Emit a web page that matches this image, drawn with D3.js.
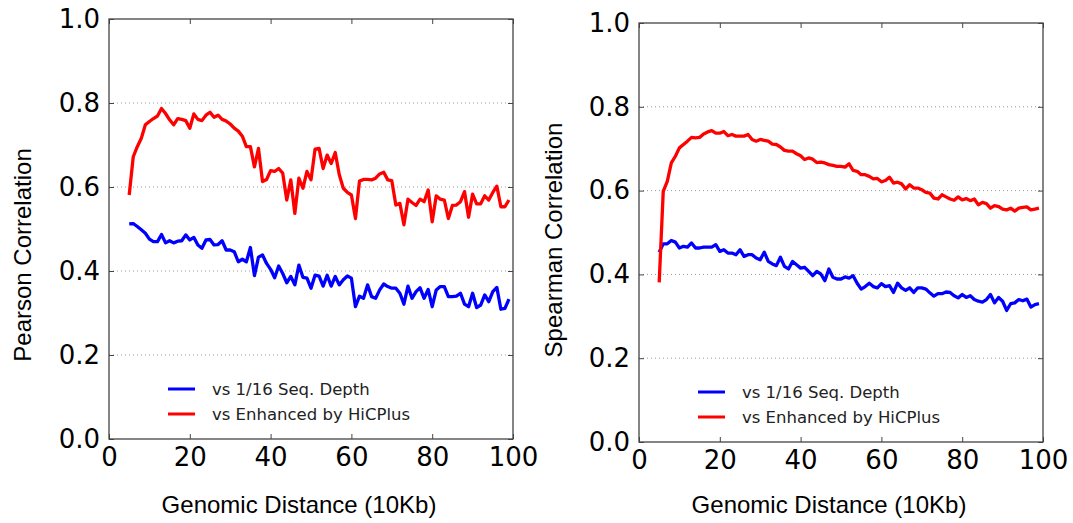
<!DOCTYPE html>
<html lang="en">
<head>
    <meta charset="UTF-8">
    <title>HiCPlus correlation vs genomic distance</title>
    <style>
        body { margin: 0; background: #fff; }
        .tick-label { font-family: "DejaVu Sans", sans-serif; font-size: 26px; fill: #000; }
        .axis-title { font-family: "Liberation Sans", Arial, sans-serif; font-size: 24px; fill: #000; }
        .legend-text { font-family: "DejaVu Sans", sans-serif; font-size: 16.5px; fill: #222; }
    </style>
</head>
<body>
    <div id="chart"></div>

    <script src="https://d3js.org/d3.v7.min.js"></script>
    <script>
        // genomic distance (10Kb bins)
        const distance = [5, 6, 7, 8, 9, 10, 11, 12, 13, 14, 15, 16, 17, 18, 19, 20, 21, 22, 23, 24,
            25, 26, 27, 28, 29, 30, 31, 32, 33, 34, 35, 36, 37, 38, 39, 40, 41, 42, 43, 44,
            45, 46, 47, 48, 49, 50, 51, 52, 53, 54, 55, 56, 57, 58, 59, 60, 61, 62, 63, 64,
            65, 66, 67, 68, 69, 70, 71, 72, 73, 74, 75, 76, 77, 78, 79, 80, 81, 82, 83, 84,
            85, 86, 87, 88, 89, 90, 91, 92, 93, 94, 95, 96, 97, 98, 99];

        const pearsonLow = [0.512, 0.513, 0.506, 0.498, 0.490, 0.476, 0.470, 0.470, 0.487, 0.467,
            0.472, 0.467, 0.471, 0.472, 0.486, 0.474, 0.480, 0.462, 0.454, 0.474,
            0.475, 0.462, 0.463, 0.472, 0.450, 0.450, 0.446, 0.422, 0.428, 0.422,
            0.456, 0.389, 0.433, 0.438, 0.418, 0.404, 0.384, 0.412, 0.394, 0.372,
            0.387, 0.367, 0.414, 0.385, 0.383, 0.359, 0.390, 0.388, 0.364, 0.390,
            0.364, 0.387, 0.367, 0.379, 0.388, 0.383, 0.315, 0.340, 0.335, 0.367,
            0.339, 0.335, 0.355, 0.369, 0.363, 0.359, 0.359, 0.347, 0.321, 0.364,
            0.335, 0.351, 0.360, 0.335, 0.356, 0.315, 0.355, 0.363, 0.363, 0.339,
            0.339, 0.340, 0.347, 0.321, 0.315, 0.347, 0.313, 0.319, 0.343, 0.327,
            0.351, 0.361, 0.309, 0.311, 0.333];

        const pearsonHiCPlus = [0.581, 0.672, 0.696, 0.716, 0.748, 0.756, 0.763, 0.769, 0.787, 0.775,
            0.760, 0.748, 0.763, 0.761, 0.758, 0.740, 0.774, 0.761, 0.758, 0.771,
            0.778, 0.766, 0.771, 0.761, 0.757, 0.750, 0.740, 0.733, 0.721, 0.696,
            0.696, 0.648, 0.692, 0.613, 0.618, 0.639, 0.637, 0.644, 0.633, 0.569,
            0.617, 0.537, 0.621, 0.597, 0.637, 0.617, 0.690, 0.692, 0.644, 0.676,
            0.656, 0.682, 0.629, 0.597, 0.587, 0.581, 0.525, 0.614, 0.618, 0.618,
            0.617, 0.621, 0.631, 0.635, 0.617, 0.615, 0.557, 0.561, 0.510, 0.571,
            0.563, 0.556, 0.571, 0.565, 0.593, 0.517, 0.579, 0.571, 0.569, 0.525,
            0.556, 0.557, 0.565, 0.589, 0.528, 0.583, 0.560, 0.560, 0.579, 0.569,
            0.587, 0.602, 0.553, 0.553, 0.569];

        const spearmanLow = [0.453, 0.473, 0.473, 0.481, 0.477, 0.463, 0.467, 0.465, 0.475, 0.463,
            0.463, 0.465, 0.465, 0.465, 0.471, 0.455, 0.459, 0.451, 0.451, 0.447,
            0.459, 0.443, 0.447, 0.447, 0.439, 0.435, 0.453, 0.431, 0.425, 0.421,
            0.441, 0.419, 0.413, 0.431, 0.423, 0.415, 0.417, 0.407, 0.397, 0.407,
            0.401, 0.385, 0.413, 0.393, 0.389, 0.389, 0.394, 0.391, 0.397, 0.379,
            0.365, 0.371, 0.379, 0.371, 0.368, 0.378, 0.371, 0.373, 0.357, 0.379,
            0.368, 0.362, 0.368, 0.357, 0.368, 0.368, 0.365, 0.356, 0.348, 0.354,
            0.354, 0.358, 0.357, 0.349, 0.344, 0.352, 0.345, 0.349, 0.340, 0.336,
            0.334, 0.340, 0.352, 0.332, 0.345, 0.336, 0.314, 0.330, 0.332, 0.340,
            0.337, 0.341, 0.322, 0.328, 0.330];

        const spearmanHiCPlus = [0.381, 0.598, 0.622, 0.666, 0.682, 0.702, 0.710, 0.718, 0.727, 0.726,
            0.727, 0.735, 0.740, 0.743, 0.737, 0.737, 0.741, 0.731, 0.734, 0.730,
            0.730, 0.730, 0.734, 0.722, 0.718, 0.722, 0.720, 0.718, 0.711, 0.710,
            0.704, 0.696, 0.694, 0.694, 0.688, 0.683, 0.674, 0.678, 0.675, 0.667,
            0.668, 0.666, 0.662, 0.660, 0.658, 0.658, 0.656, 0.664, 0.648, 0.646,
            0.638, 0.638, 0.634, 0.628, 0.629, 0.621, 0.624, 0.632, 0.618, 0.620,
            0.616, 0.604, 0.614, 0.606, 0.606, 0.602, 0.596, 0.594, 0.582, 0.580,
            0.590, 0.585, 0.580, 0.577, 0.585, 0.578, 0.581, 0.576, 0.580, 0.566,
            0.572, 0.569, 0.558, 0.564, 0.562, 0.556, 0.554, 0.558, 0.551, 0.558,
            0.560, 0.561, 0.554, 0.556, 0.558];

        const xTicks = [0, 20, 40, 60, 80, 100];
        const yTicks = [0.0, 0.2, 0.4, 0.6, 0.8, 1.0];
        const gridValues = [0.2, 0.4, 0.6, 0.8];
        const legendLabels = ["vs 1/16 Seq. Depth", "vs Enhanced by HiCPlus"];
        const seriesColors = ["#0000ff", "#ff0000"];

        const panels = [
            { left: 109, top: 19, width: 404, height: 420, yTitle: "Pearson Correlation",
              yTitleX: 31, yTitleY: 255, series: [pearsonLow, pearsonHiCPlus] },
            { left: 639, top: 23, width: 404, height: 419, yTitle: "Spearman Correlation",
              yTitleX: 562, yTitleY: 240, series: [spearmanLow, spearmanHiCPlus] }
        ];

        const svg = d3.select("#chart").append("svg")
            .attr("width", 1073)
            .attr("height", 523);

        panels.forEach(p => {
            const g = svg.append("g").attr("transform", `translate(${p.left},${p.top})`);

            const x = d3.scaleLinear().domain([0, 100]).range([0, p.width]);
            const y = d3.scaleLinear().domain([0, 1]).range([p.height, 0]);

            // dotted horizontal grid
            g.append("g")
                .selectAll("line")
                .data(gridValues)
                .enter()
                .append("line")
                .attr("x1", 0)
                .attr("x2", p.width)
                .attr("y1", d => y(d))
                .attr("y2", d => y(d))
                .attr("stroke", "#999")
                .attr("stroke-width", 1)
                .attr("stroke-dasharray", "1,3");

            // series lines
            const line = d3.line()
                .x((d, i) => x(distance[i]))
                .y(d => y(d));

            p.series.forEach((vals, i) => {
                g.append("path")
                    .datum(vals)
                    .attr("fill", "none")
                    .attr("stroke", seriesColors[i])
                    .attr("stroke-width", 3.3)
                    .attr("stroke-linejoin", "round")
                    .attr("d", line);
            });

            // axes with inward ticks on all four sides
            const bottom = g.append("g")
                .attr("transform", `translate(0,${p.height})`)
                .call(d3.axisBottom(x).tickValues(xTicks).tickSize(-5).tickPadding(8.5).tickFormat(d3.format("d")));
            const left = g.append("g")
                .call(d3.axisLeft(y).tickValues(yTicks).tickSize(-5).tickPadding(9).tickFormat(d3.format(".1f")));
            g.append("g")
                .call(d3.axisTop(x).tickValues(xTicks).tickSize(-5).tickFormat(""));
            g.append("g")
                .attr("transform", `translate(${p.width},0)`)
                .call(d3.axisRight(y).tickValues(yTicks).tickSize(-5).tickFormat(""));

            g.selectAll(".domain").remove();
            g.selectAll(".tick line").attr("stroke", "#444").attr("stroke-width", 1);
            [bottom, left].forEach(a => {
                a.attr("font-size", null).attr("font-family", null);
                a.selectAll("text").attr("class", "tick-label").attr("fill", null);
            });

            g.append("rect")
                .attr("width", p.width)
                .attr("height", p.height)
                .attr("fill", "none")
                .attr("stroke", "#444")
                .attr("stroke-width", 1.3);

            // legend, no frame
            const leg = g.append("g")
                .attr("transform", `translate(59,${p.height - 50})`);
            legendLabels.forEach((lbl, i) => {
                leg.append("line")
                    .attr("x1", 0).attr("x2", 27)
                    .attr("y1", i * 25).attr("y2", i * 25)
                    .attr("stroke", seriesColors[i])
                    .attr("stroke-width", 3);
                leg.append("text")
                    .attr("class", "legend-text")
                    .attr("x", 44)
                    .attr("y", i * 25 + 6)
                    .text(lbl);
            });

            // axis titles
            svg.append("text")
                .attr("class", "axis-title")
                .attr("x", p.left + p.width / 2 - 12)
                .attr("y", 513)
                .attr("text-anchor", "middle")
                .text("Genomic Distance (10Kb)");

            svg.append("text")
                .attr("class", "axis-title")
                .attr("transform", `translate(${p.yTitleX},${p.yTitleY}) rotate(-90)`)
                .attr("text-anchor", "middle")
                .text(p.yTitle);
        });
    </script>
</body>
</html>
